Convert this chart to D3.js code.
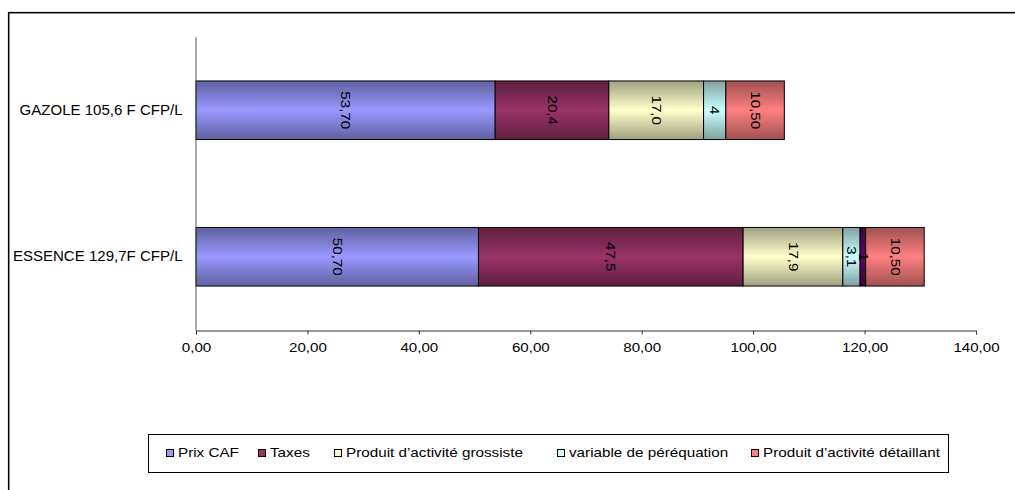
<!DOCTYPE html>
<html>
<head>
<meta charset="utf-8">
<script src="https://cdn.jsdelivr.net/npm/d3@7"></script>
<style>
  body { margin: 0; background: #fff; }
  svg text { font-family: "Liberation Sans", Arial, sans-serif; fill: #000; }
</style>
</head>
<body>
<div id="chart"></div>
<script>
const categories = ["GAZOLE 105,6 F CFP/L", "ESSENCE 129,7F CFP/L"];
const seriesNames = [
  "Prix CAF",
  "Taxes",
  "Produit d\u2019activité grossiste",
  "variable de péréquation",
  "",
  "Produit d\u2019activité détaillant"
];
const seriesColors = ["#9999ff", "#993366", "#ffffcc", "#ccffff", "#660066", "#ff8080"];
// values per series: [GAZOLE, ESSENCE]
const seriesValues = [
  [53.7, 50.7],
  [20.4, 47.5],
  [17.0, 17.9],
  [4, 3.1],
  [null, 1],
  [10.5, 10.5]
];
// labels as printed in the bars
const seriesLabels = [
  ["53,70", "50,70"],
  ["20,4", "47,5"],
  ["17,0", "17,9"],
  ["4", "3,1"],
  [null, "1"],
  ["10,50", "10,50"]
];
const xTicks = [0, 20, 40, 60, 80, 100, 120, 140];

const width = 1015, height = 490;
const margin = { left: 196, right: 39, top: 37, bottom: 160 };
const stretch = 1.21; // old Excel text renders wider than the browser font

const svg = d3.select("#chart").append("svg")
  .attr("width", width).attr("height", height);

// outer chart frame (runs past right/bottom edges)
svg.append("rect")
  .attr("x", 9.5).attr("y", 13.5).attr("width", 1020).attr("height", 500)
  .attr("fill", "none").attr("stroke", "#999").attr("stroke-width", 1);
svg.append("rect")
  .attr("x", 8.5).attr("y", 12.5).attr("width", 1020).attr("height", 500)
  .attr("fill", "none").attr("stroke", "#000").attr("stroke-width", 1.2);

const x = d3.scaleLinear().domain([0, 140]).range([margin.left, width - margin.right]);
const y = d3.scaleBand().domain(categories)
  .range([margin.top, height - margin.bottom])
  .paddingInner(0.6).paddingOuter(0.3);

// gradients
const defs = svg.append("defs");
seriesColors.forEach((c, i) => {
  const g = defs.append("linearGradient").attr("id", "grad" + i)
    .attr("x1", 0).attr("y1", 0).attr("x2", 0).attr("y2", 1);
  const dark = d3.color(c).darker(1.3);
  g.append("stop").attr("offset", "0%").attr("stop-color", dark);
  g.append("stop").attr("offset", "50%").attr("stop-color", c);
  g.append("stop").attr("offset", "100%").attr("stop-color", dark);
});

// stacked segments
const segments = [];
categories.forEach((cat, ci) => {
  let acc = 0;
  seriesValues.forEach((vals, si) => {
    const v = vals[ci];
    if (v == null) return;
    segments.push({ cat, si, x0: acc, x1: acc + v, label: seriesLabels[si][ci] });
    acc += v;
  });
});

const bars = svg.append("g");
bars.selectAll("rect").data(segments).enter().append("rect")
  .attr("x", d => x(d.x0))
  .attr("y", d => y(d.cat))
  .attr("width", d => x(d.x1) - x(d.x0))
  .attr("height", y.bandwidth())
  .attr("fill", d => `url(#grad${d.si})`)
  .attr("stroke", "#000").attr("stroke-width", 1);

bars.selectAll("text").data(segments).enter().append("text")
  .attr("transform", d => `translate(${(x(d.x0) + x(d.x1)) / 2},${y(d.cat) + y.bandwidth() / 2}) rotate(90) scale(${stretch},1)`)
  .attr("text-anchor", "middle")
  .attr("dy", "0.35em")
  .style("font-size", "12.5px")
  .text(d => d.label);

// axes
const xAxis = d3.axisBottom(x).tickValues(xTicks).tickSize(4)
  .tickFormat(d => d3.format(".2f")(d).replace(".", ","));
const gx = svg.append("g")
  .attr("transform", `translate(0,${height - margin.bottom + 0.5})`)
  .call(xAxis);
gx.select(".domain").attr("stroke", "#333");
gx.selectAll(".tick line").attr("stroke", "#333");
gx.selectAll(".tick text").style("font-size", "12.5px")
  .style("font-family", "'Liberation Sans', Arial, sans-serif")
  .attr("fill", "#000").attr("dy", "1.15em")
  .attr("transform", `scale(${stretch},1)`);

const yAxis = d3.axisLeft(y).tickSize(0).tickPadding(0);
const gy = svg.append("g")
  .attr("transform", `translate(${margin.left - 0.5},0)`)
  .call(yAxis);
gy.select(".domain").attr("stroke", "#555");
gy.selectAll(".tick text").style("font-size", "14px")
  .style("font-family", "'Liberation Sans', Arial, sans-serif")
  .attr("fill", "#000")
  .attr("x", 0)
  .attr("transform", "translate(-13,0) scale(1.075,1)");

// legend
const legendItems = seriesNames.map((n, i) => ({ name: n, color: seriesColors[i] }))
  .filter(d => d.name !== "");
const legendX = [166, 258, 334, 557, 751];
const legend = svg.append("g");
legend.append("rect")
  .attr("x", 148.5).attr("y", 434.5).attr("width", 800).attr("height", 38)
  .attr("fill", "#fff").attr("stroke", "#000").attr("stroke-width", 1);
const li = legend.selectAll("g.item").data(legendItems).enter().append("g")
  .attr("transform", (d, i) => `translate(${legendX[i]},453)`);
li.append("rect")
  .attr("x", 0.5).attr("y", -3.5).attr("width", 7).attr("height", 7)
  .attr("fill", d => d.color).attr("stroke", "#000");
li.append("text")
  .attr("transform", "translate(12,0) scale(1.27,1)")
  .attr("dy", "0.35em")
  .style("font-size", "12px")
  .text(d => d.name);
</script>
</body>
</html>
